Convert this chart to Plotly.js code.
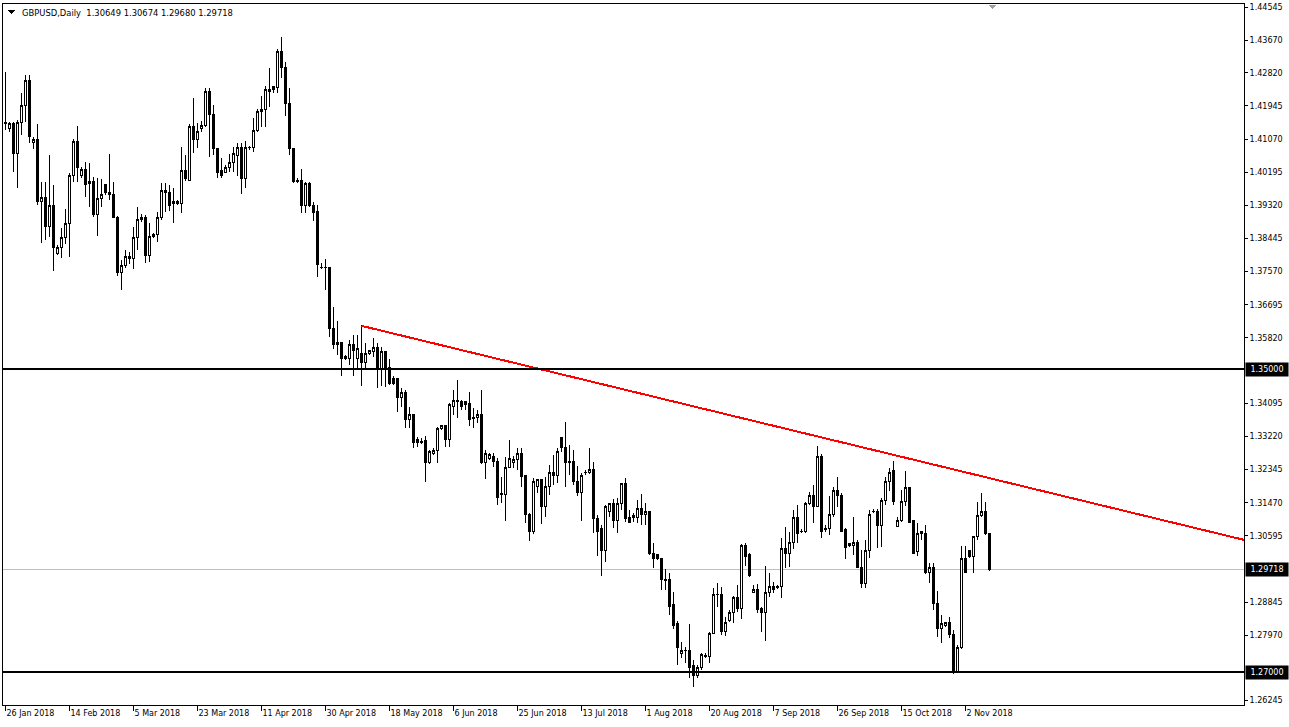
<!DOCTYPE html>
<html><head><meta charset="utf-8">
<script src="https://cdn.plot.ly/plotly-3.0.1.min.js"></script>
<style>html,body{margin:0;padding:0;background:#fff;overflow:hidden}#chart{width:1289px;height:727px}
#chart .boxlayer path, #chart .scatterlayer path, #chart .shapelayer path{shape-rendering:crispEdges}</style>
</head><body><div id="chart"></div>
<script>
const symbol = "GBPUSD,Daily";
const open = [
1.4147,1.4136,1.4147,1.4070,1.4152,1.4197,1.4263,1.4099,1.4107,1.3941,
1.3954,1.3875,1.3933,1.3806,1.3822,1.3846,1.3883,1.4012,1.4102,1.4010,
1.4028,1.3989,1.3996,1.3907,1.3949,1.3986,1.3965,1.3962,1.3901,1.3754,
1.3772,1.3793,1.3793,1.3846,1.3896,1.3901,1.3799,1.3849,1.3854,1.3901,
1.3967,1.3967,1.3936,1.3938,1.3938,1.4023,1.3999,1.4139,1.4107,1.4134,
1.4142,1.4234,1.4173,1.4081,1.4023,1.4020,1.4033,1.4044,1.4065,1.4086,
1.4004,1.4084,1.4086,1.4131,1.4179,1.4184,1.4234,1.4245,1.4242,1.4337,
1.4295,1.4200,1.4081,1.3999,1.3999,1.3933,1.3991,1.3933,1.3915,1.3769,
1.3767,1.3769,1.3606,1.3569,1.3569,1.3532,1.3529,1.3566,1.3529,1.3542,
1.3516,1.3542,1.3545,1.3558,1.3498,1.3545,1.3505,1.3476,1.3474,1.3426,
1.3439,1.3366,1.3381,1.3313,1.3308,1.3310,1.3252,1.3278,1.3286,1.3342,
1.3350,1.3313,1.3402,1.3418,1.3413,1.3413,1.3410,1.3371,1.3371,1.3379,
1.3252,1.3265,1.3270,1.3257,1.3170,1.3170,1.3241,1.3252,1.3260,1.3276,
1.3218,1.3117,1.3070,1.3189,1.3207,1.3138,1.3189,1.3226,1.3218,1.3318,
1.3294,1.3252,1.3257,1.3204,1.3175,1.3228,1.3226,1.3234,1.3104,1.3078,
1.3022,1.3123,1.3144,1.3099,1.3146,1.3197,1.3109,1.3109,1.3109,1.3133,
1.3117,1.3123,1.3014,1.3009,1.3001,1.2943,1.2943,1.2877,1.2827,1.2748,
1.2758,1.2758,1.2716,1.2692,1.2711,1.2742,1.2742,1.2803,1.2904,1.2904,
1.2806,1.2835,1.2856,1.2896,1.2869,1.3033,1.3009,1.2911,1.2919,1.2867,
1.2856,1.2911,1.2925,1.2922,1.2925,1.3025,1.3014,1.3043,1.3109,1.3070,
1.3070,1.3144,1.3165,1.3138,1.3268,1.3075,1.3078,1.3115,1.3178,1.3167,
1.3075,1.3038,1.3033,1.3041,1.2977,1.2935,1.3020,1.3123,1.3125,1.3088,
1.3154,1.3202,1.3231,1.3083,1.3099,1.3149,1.3186,1.3099,1.3017,1.3072,
1.3065,1.2962,1.2977,1.2882,1.2816,1.2822,1.2830,1.2800,1.2700,1.2764,
1.3001,1.3020,1.3004,1.3057,1.3112,1.3125,1.30649];
const high = [
1.4284,1.4152,1.4152,1.4158,1.4229,1.4276,1.4276,1.4113,1.4147,1.3994,
1.3994,1.4065,1.3986,1.3828,1.3872,1.3923,1.4018,1.4107,1.4142,1.4033,
1.4047,1.4044,1.4007,1.4004,1.4002,1.3986,1.4068,1.3994,1.3904,1.3788,
1.3814,1.3809,1.3875,1.3928,1.3909,1.3907,1.3886,1.3859,1.3915,1.3991,
1.3991,1.3986,1.3978,1.3946,1.4086,1.4065,1.4147,1.4216,1.4150,1.4155,
1.4242,1.4242,1.4197,1.4084,1.4057,1.4039,1.4068,1.4086,1.4097,1.4097,
1.4102,1.4089,1.4163,1.4187,1.4221,1.4247,1.4295,1.4247,1.4345,1.4377,
1.4311,1.4242,1.4084,1.4004,1.4028,1.3994,1.3994,1.3941,1.3933,1.3780,
1.3791,1.3770,1.3664,1.3627,1.3570,1.3537,1.3577,1.3590,1.3590,1.3616,
1.3569,1.3550,1.3582,1.3569,1.3558,1.3548,1.3527,1.3482,1.3475,1.3450,
1.3445,1.3400,1.3382,1.3321,1.3318,1.3323,1.3286,1.3292,1.3347,1.3352,
1.3352,1.3410,1.3445,1.3471,1.3418,1.3416,1.3439,1.3397,1.3392,1.3445,
1.3286,1.3278,1.3278,1.3265,1.3215,1.3268,1.3313,1.3270,1.3292,1.3292,
1.3218,1.3120,1.3212,1.3207,1.3208,1.3215,1.3247,1.3273,1.3292,1.3319,
1.3360,1.3300,1.3286,1.3244,1.3226,1.3234,1.3292,1.3255,1.3115,1.3088,
1.3141,1.3146,1.3157,1.3160,1.3199,1.3212,1.3128,1.3120,1.3154,1.3170,
1.3146,1.3125,1.3041,1.3012,1.3002,1.2972,1.2962,1.2911,1.2835,1.2779,
1.2766,1.2827,1.2732,1.2719,1.2750,1.2750,1.2806,1.2922,1.2935,1.2925,
1.2845,1.2864,1.2901,1.2930,1.3038,1.3041,1.3014,1.2930,1.2933,1.2872,
1.2980,1.2962,1.2938,1.2930,1.3054,1.3083,1.3070,1.3128,1.3141,1.3078,
1.3149,1.3175,1.3194,1.3297,1.3276,1.3088,1.3165,1.3189,1.3215,1.3173,
1.3080,1.3041,1.3109,1.3049,1.3022,1.3049,1.3128,1.3131,1.3131,1.3160,
1.3215,1.3239,1.3257,1.3109,1.3181,1.3231,1.3189,1.3102,1.3094,1.3073,
1.3088,1.2988,1.2988,1.2914,1.2851,1.2832,1.2845,1.2811,1.2772,1.3033,
1.3033,1.3021,1.3057,1.3149,1.3173,1.3149,1.30674];
const low = [
1.4131,1.4126,1.4020,1.3978,1.4118,1.4152,1.4097,1.4081,1.3933,1.3833,
1.3841,1.3849,1.3759,1.3801,1.3793,1.3830,1.3796,1.3994,1.3994,1.4004,
1.3954,1.3928,1.3901,1.3851,1.3928,1.3960,1.3946,1.3899,1.3746,1.3709,
1.3767,1.3777,1.3764,1.3814,1.3888,1.3780,1.3783,1.3846,1.3835,1.3894,
1.3915,1.3917,1.3886,1.3933,1.3912,1.3996,1.3996,1.4070,1.4084,1.4126,
1.4139,1.4060,1.4065,1.4004,1.4004,1.4018,1.4020,1.4020,1.4010,1.3962,
1.3978,1.4078,1.4073,1.4126,1.4139,1.4139,1.4192,1.4229,1.4229,1.4268,
1.4168,1.4065,1.3991,1.3991,1.3912,1.3912,1.3928,1.3891,1.3743,1.3764,
1.3709,1.3585,1.3553,1.3537,1.3482,1.3524,1.3511,1.3482,1.3498,1.3455,
1.3503,1.3537,1.3532,1.3450,1.3455,1.3453,1.3458,1.3458,1.3387,1.3400,
1.3344,1.3344,1.3292,1.3294,1.3302,1.3202,1.3249,1.3273,1.3252,1.3339,
1.3294,1.3294,1.3379,1.3371,1.3392,1.3392,1.3350,1.3344,1.3358,1.3249,
1.3210,1.3260,1.3241,1.3141,1.3146,1.3099,1.3239,1.3239,1.3234,1.3189,
1.3094,1.3046,1.3065,1.3173,1.3091,1.3109,1.3167,1.3194,1.3199,1.3281,
1.3189,1.3220,1.3194,1.3165,1.3099,1.3220,1.3223,1.3067,1.3006,1.2954,
1.2991,1.3109,1.3080,1.3067,1.3128,1.3096,1.3093,1.3096,1.3094,1.3088,
1.3088,1.3009,1.2975,1.2996,1.2917,1.2917,1.2851,1.2814,1.2719,1.2737,
1.2724,1.2684,1.2661,1.2684,1.2706,1.2737,1.2724,1.2800,1.2872,1.2798,
1.2795,1.2832,1.2830,1.2859,1.2840,1.2980,1.2951,1.2909,1.2856,1.2806,
1.2782,1.2898,1.2909,1.2919,1.2896,1.2975,1.2977,1.3025,1.3041,1.3067,
1.3067,1.3141,1.3094,1.3136,1.3054,1.3070,1.3062,1.3109,1.3136,1.3070,
1.2999,1.3030,1.3009,1.2975,1.2922,1.2922,1.3001,1.3120,1.3028,1.3030,
1.3141,1.3178,1.3141,1.3082,1.3096,1.3138,1.3094,1.3012,1.3006,1.3049,
1.2959,1.2935,1.2864,1.2793,1.2777,1.2819,1.2790,1.2695,1.2698,1.2761,
1.2961,1.3001,1.2962,1.3049,1.3109,1.3062,1.29680];
const close = [
1.4152,1.4147,1.4070,1.4152,1.4197,1.4263,1.4113,1.4107,1.3941,1.3954,
1.3875,1.3933,1.3822,1.3822,1.3846,1.3883,1.4012,1.4102,1.4031,1.4028,
1.3986,1.3996,1.3907,1.3949,1.3962,1.3965,1.3962,1.3901,1.3754,1.3772,
1.3796,1.3796,1.3846,1.3896,1.3901,1.3799,1.3849,1.3854,1.3901,1.3970,
1.3970,1.3931,1.3941,1.3941,1.4023,1.4002,1.4139,1.4107,1.4128,1.4144,
1.4234,1.4173,1.4081,1.4020,1.4010,1.4033,1.4044,1.4068,1.4086,1.4004,
1.4086,1.4086,1.4131,1.4179,1.4184,1.4237,1.4239,1.4239,1.4337,1.4295,
1.4200,1.4081,1.3996,1.3996,1.3933,1.3991,1.3931,1.3912,1.3775,1.3767,
1.3768,1.3606,1.3566,1.3566,1.3529,1.3529,1.3566,1.3548,1.3553,1.3516,
1.3542,1.3548,1.3558,1.3498,1.3545,1.3498,1.3463,1.3461,1.3426,1.3439,
1.3366,1.3381,1.3305,1.3305,1.3307,1.3252,1.3281,1.3286,1.3342,1.3350,
1.3313,1.3405,1.3418,1.3413,1.3400,1.3405,1.3368,1.3370,1.3379,1.3252,
1.3276,1.3273,1.3255,1.3160,1.3171,1.3241,1.3263,1.3260,1.3276,1.3215,
1.3117,1.3070,1.3204,1.3207,1.3138,1.3189,1.3226,1.3218,1.3281,1.3292,
1.3252,1.3257,1.3202,1.3175,1.3220,1.3226,1.3234,1.3104,1.3072,1.3022,
1.3136,1.3144,1.3099,1.3146,1.3197,1.3104,1.3094,1.3112,1.3133,1.3115,
1.3123,1.3012,1.2999,1.3001,1.2943,1.2941,1.2874,1.2824,1.2766,1.2758,
1.2757,1.2713,1.2690,1.2711,1.2745,1.2743,1.2803,1.2904,1.2905,1.2806,
1.2832,1.2856,1.2896,1.2869,1.3033,1.3006,1.2954,1.2919,1.2864,1.2856,
1.2911,1.2925,1.2917,1.2927,1.3025,1.3014,1.3043,1.3109,1.3065,1.3072,
1.3144,1.3165,1.3138,1.3268,1.3070,1.3078,1.3115,1.3178,1.3165,1.3072,
1.3028,1.3033,1.3041,1.2977,1.2935,1.3020,1.3115,1.3125,1.3088,1.3154,
1.3202,1.3228,1.3149,1.3099,1.3149,1.3186,1.3096,1.3014,1.3067,1.3065,
1.2962,1.2977,1.2880,1.2816,1.2827,1.2830,1.2798,1.2700,1.2766,1.3001,
1.2962,1.3004,1.3057,1.3112,1.3125,1.3065,1.29718];

const xTickIndex = [0,16,32,48,64,80,96,112,128,144,160,176,192,208,224,240];
const xTickLabels = ["26 Jan 2018","14 Feb 2018","5 Mar 2018","23 Mar 2018","11 Apr 2018","30 Apr 2018",
  "18 May 2018","6 Jun 2018","25 Jun 2018","13 Jul 2018","1 Aug 2018","20 Aug 2018","7 Sep 2018",
  "26 Sep 2018","15 Oct 2018","2 Nov 2018"];
const yTickValues = [1.44545,1.43670,1.42820,1.41945,1.41070,1.40195,1.39320,1.38445,1.37570,1.36695,
  1.35820,1.34095,1.33220,1.32345,1.31470,1.30595,1.28845,1.27970,1.26245];
const levels = [1.35000, 1.27000];
const trendIndex = [89, 203];
const trendPrice = [1.3614, 1.3322];

const FONT = '"DejaVu Sans", Verdana, sans-serif';
const idx = open.map((_, i) => i);
const last = close.length - 1;
const xRange = [-0.625, 309.625];
const yRange = [1.26129, 1.44637];

const slope = (trendPrice[1] - trendPrice[0]) / (trendIndex[1] - trendIndex[0]);
const trendX = [trendIndex[0], xRange[1] + 2];
const trendY = [trendPrice[0], trendPrice[0] + slope * (trendX[1] - trendIndex[0])];

const candle = {
  type: 'candlestick', x: idx, open: open, high: high, low: low, close: close,
  increasing: {line: {color: '#000000', width: 1}, fillcolor: '#ffffff'},
  decreasing: {line: {color: '#000000', width: 1}, fillcolor: '#000000'},
  whiskerwidth: 0, hoverinfo: 'skip', showlegend: false
};
const trend = {
  type: 'scatter', mode: 'lines', x: trendX, y: trendY,
  line: {color: '#ff0000', width: 2}, hoverinfo: 'skip', showlegend: false, cliponaxis: true
};

const shapes = [];
levels.forEach(v => shapes.push({type: 'line', xref: 'paper', x0: 0, x1: 1, yref: 'y', y0: v, y1: v,
  line: {color: '#000000', width: 2}}));
shapes.push({type: 'line', xref: 'paper', x0: 0, x1: 1, yref: 'y', y0: close[last], y1: close[last],
  line: {color: '#c0c0c0', width: 1}, layer: 'below'});
// header triangle and shift marker
shapes.push({type: 'path', xref: 'paper', yref: 'paper',
  path: 'M 0.00403 0.99144 L 0.00967 0.99144 L 0.00685 0.98573 Z', fillcolor: '#000', line: {width: 0}});
shapes.push({type: 'path', xref: 'paper', yref: 'paper',
  path: 'M 0.7945 0.9986 L 0.8010 0.9986 L 0.7977 0.9929 Z', fillcolor: '#a0a0a0', line: {width: 0}});

const annotations = [];
const boxLabels = levels.concat([close[last]]);
boxLabels.forEach(v => annotations.push({
  xref: 'paper', x: 1, xanchor: 'left', xshift: 1, yref: 'y', y: v, yanchor: 'middle',
  text: v.toFixed(5), showarrow: false, bgcolor: '#000000', borderpad: 1, width: 40, height: 11,
  align: 'center', font: {family: FONT, size: 8, color: '#ffffff'}
}));
annotations.push({
  xref: 'paper', yref: 'paper', x: 0.0137, y: 0.9872, xanchor: 'left', yanchor: 'middle', showarrow: false,
  text: symbol + '\u00a0\u00a0' + [open[last], high[last], low[last], close[last]].map(v => v.toFixed(5)).join(' '),
  font: {family: FONT, size: 8.4, color: '#000000'}
});

const layout = {
  width: 1289, height: 727, autosize: false,
  margin: {l: 3, r: 45, t: 4, b: 22, pad: 0},
  paper_bgcolor: '#ffffff', plot_bgcolor: '#ffffff',
  showlegend: false, boxgap: 0.5,
  font: {family: FONT, size: 8, color: '#000000'},
  xaxis: {
    type: 'linear', range: xRange, rangeslider: {visible: false},
    tickmode: 'array', tickvals: xTickIndex, ticktext: xTickLabels,
    ticks: 'outside', ticklen: 5, tickcolor: '#000', tickwidth: 1,
    ticklabelposition: 'outside right',
    showgrid: false, zeroline: false, showline: true, linecolor: '#000', linewidth: 1, mirror: true,
    tickfont: {family: FONT, size: 8, color: '#000'}, fixedrange: true
  },
  yaxis: {
    type: 'linear', range: yRange, side: 'right',
    tickmode: 'array', tickvals: yTickValues, ticktext: yTickValues.map(v => v.toFixed(5)),
    ticks: 'outside', ticklen: 3, tickcolor: '#000', tickwidth: 1,
    showgrid: false, zeroline: false, showline: true, linecolor: '#000', linewidth: 1, mirror: true,
    tickfont: {family: FONT, size: 8, color: '#000'}, fixedrange: true
  },
  shapes: shapes,
  annotations: annotations
};

Plotly.newPlot('chart', [candle, trend], layout, {staticPlot: true, displayModeBar: false});
</script>
</body></html>
